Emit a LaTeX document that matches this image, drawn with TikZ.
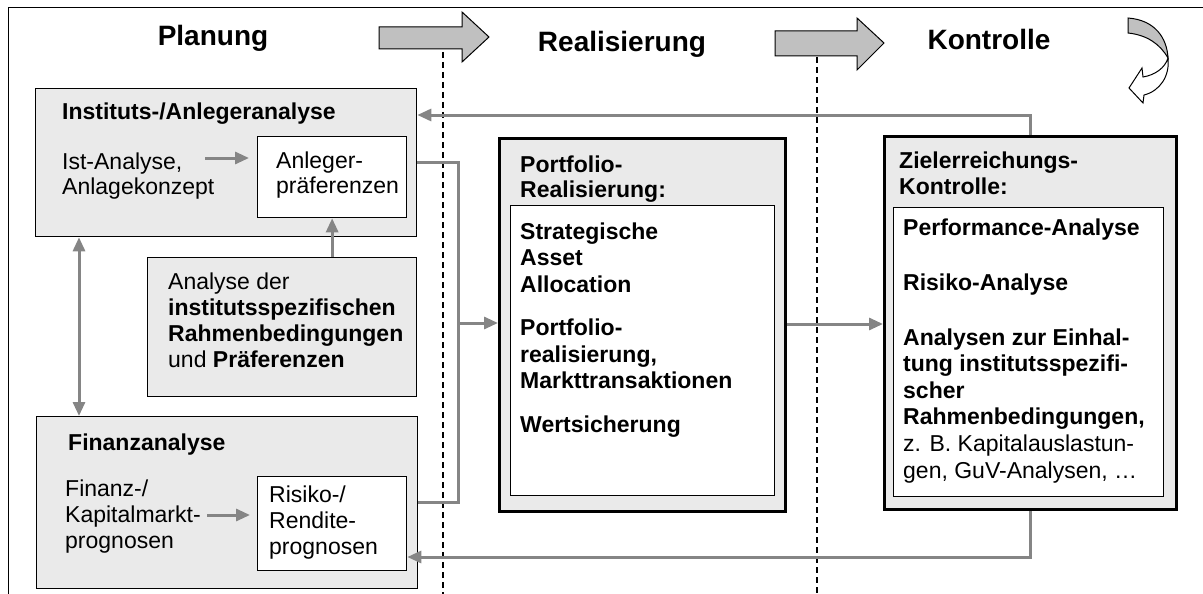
\documentclass[tikz,border=0pt]{standalone}
\usepackage{fontspec}
\setmainfont{Liberation Sans}
\usetikzlibrary{arrows.meta}
\definecolor{boxgray}{HTML}{EAEAEA}
\definecolor{arrgray}{HTML}{C0C0C0}
\definecolor{lnk}{HTML}{858585}
\begin{document}
\begin{tikzpicture}[x=1pt,y=-1pt,
  box/.style={draw=black, line width=1.3pt, fill=boxgray, inner sep=0pt, anchor=north west},
  thickbox/.style={box, line width=3pt},
  wbox/.style={draw=black, line width=1.3pt, fill=white, inner sep=0pt, anchor=north west},
  txt/.style={anchor=base west, inner sep=0pt, align=left, font=\fontsize{23}{26}\selectfont},
  btxt/.style={txt, font=\fontsize{23}{26}\selectfont\bfseries},
  head/.style={anchor=base, inner sep=0pt, font=\fontsize{28}{32}\selectfont\bfseries},
  link/.style={draw=lnk, line width=3pt},
  tip/.style={-{Triangle[length=14pt,width=12pt]}},
  bigarrow/.style={draw=black, line width=1pt, fill=arrgray, line join=miter},
  frame/.style={draw=black, line width=1pt},
  sep/.style={draw=black, line width=1.3pt, dash pattern=on 6pt off 4pt}
]
\useasboundingbox (0,0) rectangle (1203,594);
% outer frame
\draw[frame] (1203,8) -- (8,8) -- (8,594);
% headings
\node[head] (h1) at (213,46) {Planung};
\node[head] (h2) at (622,52) {Realisierung};
\node[head] (h3) at (989,50) {Kontrolle};
% big arrows
\draw[bigarrow] (379,27) -- (462,27) -- (462,12) -- (489,37) -- (462,62) -- (462,49) -- (379,49) -- cycle;
\draw[bigarrow] (775,31) -- (857,31) -- (857,18) -- (884,43) -- (857,70) -- (857,56) -- (775,56) -- cycle;
% curved arrow
\draw[bigarrow] (1128,18) .. controls (1155,20) and (1167,38) .. (1168,58)
   .. controls (1160,44) and (1147,35) .. (1128,33) -- cycle;
\draw[draw=black, line width=1pt, fill=white] (1168,58) .. controls (1170,76) and (1160,91) .. (1144,95)
   -- (1143,103) -- (1129,88) -- (1142,68) -- (1143,77)
   .. controls (1155,75) and (1165,68) .. (1168,58) -- cycle;
% separators
\draw[sep] (443,52) -- (443,594);
\draw[sep] (817,57) -- (817,594);
% Planung boxes
\node[box, minimum width=381pt, minimum height=148pt] (A) at (35,88) {};
\node[btxt] (At) at (62,119) {Instituts-/Anlegeranalyse};
\node[txt, font=\fontsize{23}{25}\selectfont] (Ai) at (62,194) {Ist-Analyse,\\Anlagekonzept};
\node[wbox, minimum width=149pt, minimum height=81pt] (A1) at (257,136) {};
\node[txt, font=\fontsize{23}{25}\selectfont] (A1t) at (276,193) {Anleger-\\präferenzen};
\node[box, minimum width=269pt, minimum height=139pt] (B) at (147,257) {};
\node[txt] (Bt) at (168,367) {Analyse der\\\textbf{institutsspezifischen}\\\textbf{Rahmenbedingungen}\\und \textbf{Präferenzen}};
\node[box, minimum width=381pt, minimum height=172pt] (C) at (36,416) {};
\node[btxt] (Ct) at (68,450) {Finanzanalyse};
\node[txt] (Ci) at (65,548) {Finanz-/\\Kapitalmarkt-\\prognosen};
\node[wbox, minimum width=149pt, minimum height=94pt] (C1) at (257,476) {};
\node[txt] (C1t) at (269,554) {Risiko-/\\Rendite-\\prognosen};
% Realisierung
\node[thickbox, minimum width=286pt, minimum height=373pt] (D) at (498,137) {};
\node[btxt, font=\fontsize{23}{25}\selectfont\bfseries] (Dt) at (520,197) {Portfolio-\\Realisierung:};
\node[wbox, minimum width=264pt, minimum height=290pt] (D1) at (510,205) {};
\node[btxt, font=\fontsize{23}{26.5}\selectfont\bfseries] (D1t) at (520,432) {Strategische\\Asset\\Allocation\\[17pt]Portfolio-\\realisierung,\\Markttransaktionen\\[17pt]Wertsicherung};
% Kontrolle
\node[thickbox, minimum width=292pt, minimum height=373pt] (E) at (883,135) {};
\node[btxt, font=\fontsize{23}{26}\selectfont\bfseries] (Et) at (899,194) {Zielerreichungs-\\Kontrolle:};
\node[wbox, minimum width=270pt, minimum height=289pt] (E1) at (893,207) {};
\node[txt, font=\fontsize{23}{26.6}\selectfont] (E1t) at (903,478) {\textbf{Performance-Analyse}\\[28pt]\textbf{Risiko-Analyse}\\[28pt]\textbf{Analysen zur Einhal-}\\\textbf{tung institutsspezifi-}\\\textbf{scher}\\\textbf{Rahmenbedingungen,}\\z. B. Kapitalauslastun-\\gen, GuV-Analysen, …};
% small arrows
\coordinate (s1) at (205,158);
\coordinate (s1e) at (249,158);
\draw[link, tip] (s1) -- (s1e);
\coordinate (s2) at (207,515);
\coordinate (s2e) at (250,515);
\draw[link, tip] (s2) -- (s2e);
% connectors
\draw[link, tip] (A1.south |- B.north) -- (A1.south);
\draw[link, {Triangle[length=14pt,width=12pt]}-{Triangle[length=14pt,width=12pt]}] (A.south -| 79,0) -- (C.north -| 79,0);
\coordinate (j) at (458,323);
\draw[link, tip] (A.east |- 0,162) -| (j) -- (D.west |- j);
\draw[link] (C.east |- 0,502) -| (j);
\draw[link, tip] (D.east |- 0,324) -- (E.west |- 0,324);
\draw[link, tip] (E.north) |- (A.east |- 0,115);
\draw[link, tip] (E.south) |- (C1.east |- 0,557);
\end{tikzpicture}
\end{document}
